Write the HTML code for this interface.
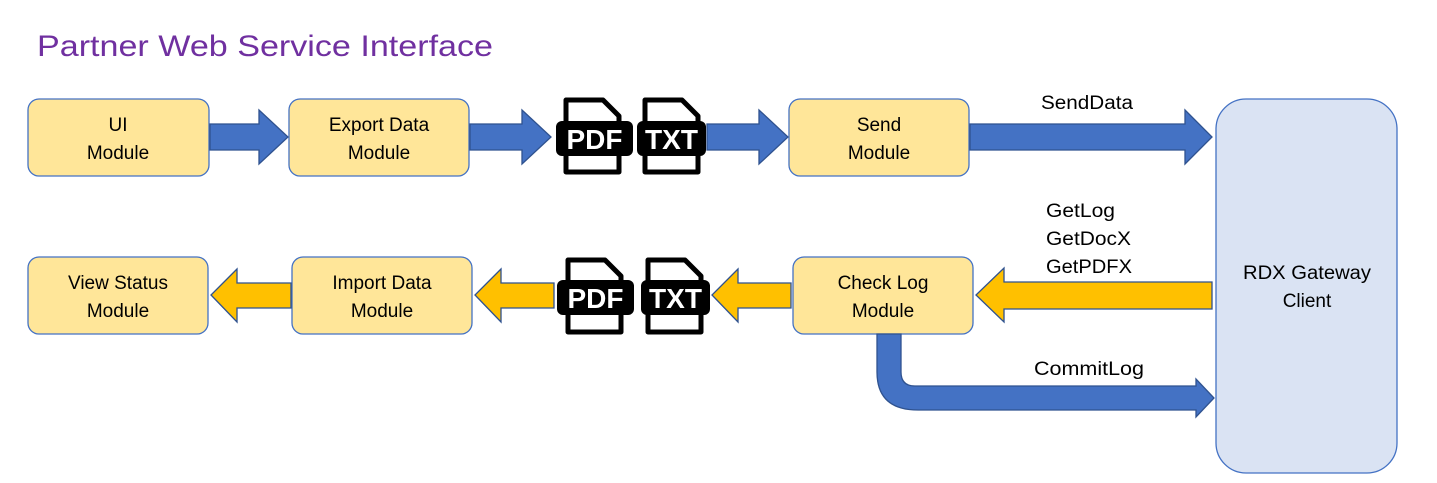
<!DOCTYPE html>
<html><head><meta charset="utf-8"><style>
html,body{margin:0;padding:0;background:#fff}
svg{display:block}
text{font-family:"Liberation Sans",sans-serif}
</style></head><body>
<svg width="1437" height="483" viewBox="0 0 1437 483" xmlns="http://www.w3.org/2000/svg">
<text x="37" y="56" font-size="30" fill="#7030A0" textLength="456" lengthAdjust="spacingAndGlyphs">Partner Web Service Interface</text>

<g fill="#FFE699" stroke="#4472C4" stroke-width="1.3">
<rect x="28" y="99" width="181" height="77" rx="11"/>
<rect x="289" y="99" width="180" height="77" rx="11"/>
<rect x="789" y="99" width="180" height="77" rx="11"/>
<rect x="28" y="257" width="180" height="77" rx="11"/>
<rect x="292" y="257" width="180" height="77" rx="11"/>
<rect x="793" y="257" width="180" height="77" rx="11"/>
</g>
<rect x="1216" y="99" width="181" height="374" rx="30" fill="#DAE3F3" stroke="#4472C4" stroke-width="1.3"/>

<g font-size="19" fill="#000" text-anchor="middle">
<text x="118" y="131">UI</text><text x="118" y="159">Module</text>
<text x="379" y="131">Export Data</text><text x="379" y="159">Module</text>
<text x="879" y="131">Send</text><text x="879" y="159">Module</text>
<text x="118" y="289">View Status</text><text x="118" y="317">Module</text>
<text x="382" y="289">Import Data</text><text x="382" y="317">Module</text>
<text x="883" y="289">Check Log</text><text x="883" y="317">Module</text>
<text x="1307" y="279" textLength="128" lengthAdjust="spacingAndGlyphs">RDX Gateway</text><text x="1307" y="307">Client</text>
</g>
<g font-size="19" fill="#000">
<text x="1041" y="109" textLength="92" lengthAdjust="spacingAndGlyphs">SendData</text>
<text x="1046" y="217" textLength="69" lengthAdjust="spacingAndGlyphs">GetLog</text>
<text x="1046" y="245" textLength="85" lengthAdjust="spacingAndGlyphs">GetDocX</text>
<text x="1046" y="273" textLength="86" lengthAdjust="spacingAndGlyphs">GetPDFX</text>
<text x="1034" y="375" textLength="110" lengthAdjust="spacingAndGlyphs">CommitLog</text>
</g>

<g fill="#4472C4" stroke="#2F528F" stroke-width="1.3">
<polygon points="210,124 259,124 259,110 288,137 259,164 259,150 210,150"/>
<polygon points="470,124 522,124 522,110 551,137 522,164 522,150 470,150"/>
<polygon points="707,124 759,124 759,110 788,137 759,164 759,150 707,150"/>
<polygon points="970,124 1185,124 1185,110 1212,137 1185,164 1185,150 970,150"/>
<path d="M877,334 L901,334 L901,372 Q901,386 915,386 L1196,386 L1196,379 L1214,398 L1196,417 L1196,410 L918,410 Q877,410 877,372 Z"/>
</g>
<g fill="#FFC000" stroke="#2F528F" stroke-width="1.3">
<polygon points="291,283 237,283 237,269 211,295 237,322 237,308 291,308"/>
<polygon points="554,283 501,283 501,269 475,295 501,322 501,308 554,308"/>
<polygon points="791,283 738,283 738,269 712,295 738,322 738,308 791,308"/>
<polygon points="1212,282 1004,282 1004,268 976,295 1004,322 1004,309 1212,309"/>
</g>

<g fill="#fff" stroke="#000" stroke-width="5" stroke-linejoin="round">
<path d="M566,100 L603,100 L619,116 L619,172 L566,172 Z"/>
<path d="M645,100 L682,100 L698,116 L698,172 L645,172 Z"/>
<path d="M568,260 L605,260 L621,276 L621,332 L568,332 Z"/>
<path d="M648,260 L685,260 L701,276 L701,332 L648,332 Z"/>
</g>
<g fill="#000">
<rect x="556" y="121" width="77" height="35" rx="6"/>
<rect x="637" y="121" width="69" height="35" rx="6"/>
<rect x="557" y="280" width="77" height="35" rx="6"/>
<rect x="641" y="280" width="69" height="35" rx="6"/>
</g>
<g fill="#fff" font-size="28" font-weight="bold" text-anchor="middle">
<text x="594.5" y="149">PDF</text>
<text x="671.5" y="149">TXT</text>
<text x="595.5" y="308">PDF</text>
<text x="675.5" y="308">TXT</text>
</g>
</svg>
</body></html>
